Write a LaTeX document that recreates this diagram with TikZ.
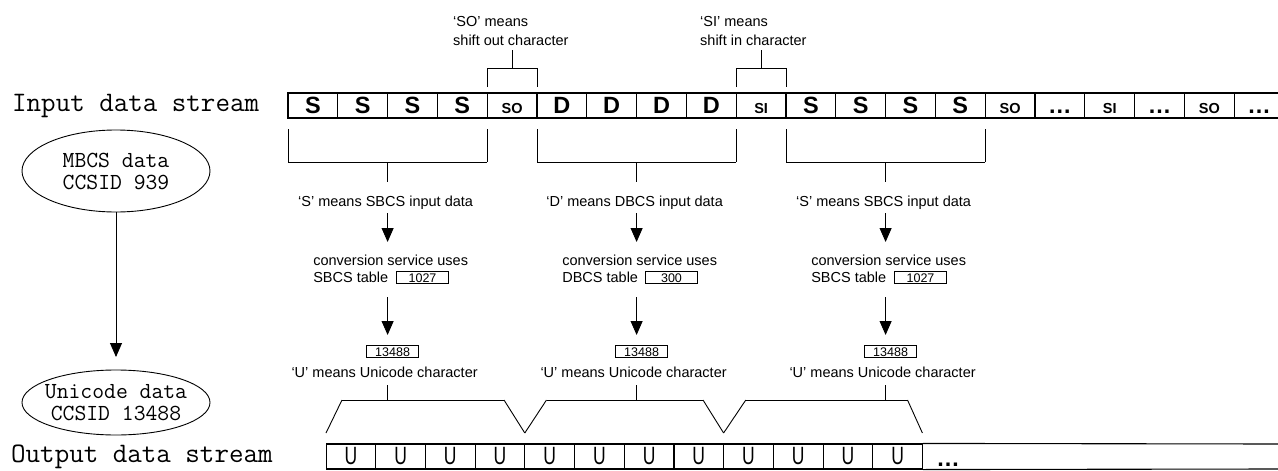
\documentclass[tikz,border=0pt]{standalone}
\usepackage{fontspec}
\usepackage{tikz}
\usetikzlibrary{arrows.meta,shapes.geometric}
\newfontfamily\helv{Liberation Sans}
\newfontfamily\helvnarrow[FakeStretch=0.7]{Liberation Sans}
\newcommand\notefont{\helv\fontsize{14.5}{17}\selectfont}
\newcommand\numfont{\helv\fontsize{12.5}{14}\selectfont}
\newcommand\bigbold{\helv\bfseries\fontsize{23.5}{26}\selectfont}
\newcommand\smallbold{\helv\bfseries\fontsize{14.5}{16}\selectfont}
\newcommand\ufont{\helvnarrow\fontsize{25}{27}\selectfont}
\newcommand\streamfont{\ttfamily\fontsize{28.2}{30}\selectfont}
\newcommand\ovalfont{\ttfamily\fontsize{23}{22}\selectfont}
\tikzstyle{none}=[inner sep=0pt]
\tikzstyle{simple}=[-,draw=black,line width=0.9pt]
\tikzstyle{arrow}=[-{Triangle[length=14pt,width=12pt]},draw=black,line width=0.9pt]
\tikzstyle{stream}=[inner sep=0pt,font=\streamfont]
\tikzstyle{oval}=[draw=black,line width=0.9pt,ellipse,inner xsep=-12pt,inner ysep=0pt,minimum width=188pt,align=center,font=\ovalfont]
\tikzstyle{cell}=[draw=black,line width=1.1pt,minimum width=49.8pt,minimum height=25pt,inner sep=0pt,text height=16.5pt,text depth=0pt]
\tikzstyle{ucell}=[draw=black,line width=1.1pt,minimum width=49.7pt,minimum height=25pt,inner sep=0pt,font=\ufont]
\tikzstyle{note}=[inner sep=0pt,font=\notefont,text height=10.5pt,text depth=0pt]
\tikzstyle{tablebox}=[draw=black,line width=0.8pt,minimum width=52pt,minimum height=12pt,inner sep=0pt,font=\numfont,text height=9pt,text depth=0pt]

\begin{document}
\begin{tikzpicture}[x=1pt,y=-1pt]
  \useasboundingbox (0,0) rectangle (1278,471);
  % left side
  \node [style=stream, anchor=west] (0) at (12, 106) {Input data stream};
  \node [style=stream, anchor=west] (1) at (11, 457) {Output data stream};
  \node [style=oval, minimum height=82pt] (2) at (116, 171) {MBCS data\\CCSID 939};
  \node [style=oval, minimum height=65pt] (3) at (116, 402.5) {Unicode data\\CCSID 13488};
  \node [style=none] (4) at (116, 357) {};
  \draw [style=arrow] (2.south) to (4.center);
  % input data stream
  \node [style=cell, font=\bigbold] (10) at (312.9, 105.5) {S};
  \node [style=cell, font=\bigbold] (11) at (362.7, 105.5) {S};
  \node [style=cell, font=\bigbold] (12) at (412.5, 105.5) {S};
  \node [style=cell, font=\bigbold] (13) at (462.3, 105.5) {S};
  \node [style=cell, font=\smallbold] (14) at (512.1, 105.5) {SO};
  \node [style=cell, font=\bigbold] (15) at (561.9, 105.5) {D};
  \node [style=cell, font=\bigbold] (16) at (611.7, 105.5) {D};
  \node [style=cell, font=\bigbold] (17) at (661.5, 105.5) {D};
  \node [style=cell, font=\bigbold] (18) at (711.3, 105.5) {D};
  \node [style=cell, font=\smallbold] (19) at (761.1, 105.5) {SI};
  \node [style=cell, font=\bigbold] (20) at (810.9, 105.5) {S};
  \node [style=cell, font=\bigbold] (21) at (860.7, 105.5) {S};
  \node [style=cell, font=\bigbold] (22) at (910.5, 105.5) {S};
  \node [style=cell, font=\bigbold] (23) at (960.3, 105.5) {S};
  \node [style=cell, font=\smallbold] (24) at (1010.1, 105.5) {SO};
  \node [style=cell, font=\bigbold] (25) at (1059.9, 105.5) {…};
  \node [style=cell, font=\smallbold] (26) at (1109.7, 105.5) {SI};
  \node [style=cell, font=\bigbold] (27) at (1159.5, 105.5) {…};
  \node [style=cell, font=\smallbold] (28) at (1209.3, 105.5) {SO};
  \node [style=cell, font=\bigbold] (29) at (1259.1, 105.5) {…};
  % output data stream
  \node [style=ucell] (30) at (350.9, 456.5) {U};
  \node [style=ucell] (31) at (400.6, 456.5) {U};
  \node [style=ucell] (32) at (450.3, 456.5) {U};
  \node [style=ucell] (33) at (500.0, 456.5) {U};
  \node [style=ucell] (34) at (549.7, 456.5) {U};
  \node [style=ucell] (35) at (599.4, 456.5) {U};
  \node [style=ucell] (36) at (649.1, 456.5) {U};
  \node [style=ucell] (37) at (698.8, 456.5) {U};
  \node [style=ucell] (38) at (748.5, 456.5) {U};
  \node [style=ucell] (39) at (798.2, 456.5) {U};
  \node [style=ucell] (40) at (847.9, 456.5) {U};
  \node [style=ucell] (41) at (897.6, 456.5) {U};
  \node [style=none, font=\bigbold, anchor=base] (42) at (948, 466) {…};
  \node [style=none] (43) at (1278, 444) {};
  \node [style=none] (44) at (1278, 469) {};
  \draw [style=simple, line width=1.1pt] (41.north east) to (43.center);
  \draw [style=simple, line width=1.1pt] (41.south east) to (44.center);
  % shift out / shift in
  \node [style=note, anchor=west] (45) at (453, 21) {‘SO’ means};
  \node [style=note, anchor=west] (46) at (453, 40) {shift out character};
  \node [style=none] (47) at (487.2, 87) {};
  \node [style=none] (48) at (487.2, 68) {};
  \node [style=none] (49) at (537, 68) {};
  \node [style=none] (50) at (537, 87) {};
  \node [style=none] (51) at (512.1, 68) {};
  \node [style=none] (52) at (512.1, 50) {};
  \node [style=note, anchor=west] (53) at (700, 21) {‘SI’ means};
  \node [style=note, anchor=west] (54) at (700, 40) {shift in character};
  \node [style=none] (55) at (736.2, 87) {};
  \node [style=none] (56) at (736.2, 68) {};
  \node [style=none] (57) at (786, 68) {};
  \node [style=none] (58) at (786, 87) {};
  \node [style=none] (59) at (761.1, 68) {};
  \node [style=none] (60) at (761.1, 50) {};
  \draw [style=simple] (47.center) to (48.center);
  \draw [style=simple] (48.center) to (49.center);
  \draw [style=simple] (49.center) to (50.center);
  \draw [style=simple] (51.center) to (52.center);
  \draw [style=simple] (55.center) to (56.center);
  \draw [style=simple] (56.center) to (57.center);
  \draw [style=simple] (57.center) to (58.center);
  \draw [style=simple] (59.center) to (60.center);
  % first SBCS column
  \node [style=none] (61) at (288, 129) {};
  \node [style=none] (62) at (288, 162) {};
  \node [style=none] (63) at (487.2, 162) {};
  \node [style=none] (64) at (487.2, 129) {};
  \node [style=none] (65) at (387.6, 162) {};
  \node [style=none] (66) at (387.6, 182) {};
  \node [style=note] (67) at (385.6, 201) {‘S’ means SBCS input data};
  \node [style=none] (68) at (387.6, 213) {};
  \node [style=none] (69) at (387.6, 242) {};
  \node [style=note, anchor=west] (70) at (313.1, 260) {conversion service uses};
  \node [style=note, anchor=west] (71) at (313.1, 277.5) {SBCS table};
  \node [style=tablebox, anchor=west] (72) at (396.1, 277.5) {1027};
  \node [style=none] (73) at (387.6, 297) {};
  \node [style=none] (74) at (387.6, 335) {};
  \node [style=tablebox] (75) at (392.6, 351.5) {13488};
  \node [style=note] (76) at (384.6, 372) {‘U’ means Unicode character};
  \node [style=none] (77) at (387.6, 385) {};
  \node [style=none] (78) at (387.6, 400) {};
  \node [style=none] (79) at (326, 433) {};
  \node [style=none] (80) at (342, 400) {};
  \node [style=none] (81) at (504, 400) {};
  \node [style=none] (82) at (524.8, 433) {};
  \draw [style=simple] (61.center) to (62.center);
  \draw [style=simple] (62.center) to (63.center);
  \draw [style=simple] (63.center) to (64.center);
  \draw [style=simple] (65.center) to (66.center);
  \draw [style=arrow] (68.center) to (69.center);
  \draw [style=arrow] (73.center) to (74.center);
  \draw [style=simple] (77.center) to (78.center);
  \draw [style=simple] (79.center) to (80.center);
  \draw [style=simple] (80.center) to (81.center);
  \draw [style=simple] (81.center) to (82.center);
  % DBCS column
  \node [style=none] (83) at (537, 129) {};
  \node [style=none] (84) at (537, 162) {};
  \node [style=none] (85) at (736.2, 162) {};
  \node [style=none] (86) at (736.2, 129) {};
  \node [style=none] (87) at (636.6, 162) {};
  \node [style=none] (88) at (636.6, 182) {};
  \node [style=note] (89) at (634.6, 201) {‘D’ means DBCS input data};
  \node [style=none] (90) at (636.6, 213) {};
  \node [style=none] (91) at (636.6, 242) {};
  \node [style=note, anchor=west] (92) at (562.1, 260) {conversion service uses};
  \node [style=note, anchor=west] (93) at (562.1, 277.5) {DBCS table};
  \node [style=tablebox, anchor=west] (94) at (645.1, 277.5) {300};
  \node [style=none] (95) at (636.6, 297) {};
  \node [style=none] (96) at (636.6, 335) {};
  \node [style=tablebox] (97) at (641.6, 351.5) {13488};
  \node [style=note] (98) at (633.6, 372) {‘U’ means Unicode character};
  \node [style=none] (99) at (636.6, 385) {};
  \node [style=none] (100) at (636.6, 400) {};
  \node [style=none] (101) at (546.5, 400) {};
  \node [style=none] (102) at (703, 400) {};
  \node [style=none] (103) at (723.6, 433) {};
  \draw [style=simple] (83.center) to (84.center);
  \draw [style=simple] (84.center) to (85.center);
  \draw [style=simple] (85.center) to (86.center);
  \draw [style=simple] (87.center) to (88.center);
  \draw [style=arrow] (90.center) to (91.center);
  \draw [style=arrow] (95.center) to (96.center);
  \draw [style=simple] (99.center) to (100.center);
  \draw [style=simple] (82.center) to (101.center);
  \draw [style=simple] (101.center) to (102.center);
  \draw [style=simple] (102.center) to (103.center);
  % second SBCS column
  \node [style=none] (104) at (786, 129) {};
  \node [style=none] (105) at (786, 162) {};
  \node [style=none] (106) at (985.2, 162) {};
  \node [style=none] (107) at (985.2, 129) {};
  \node [style=none] (108) at (885.6, 162) {};
  \node [style=none] (109) at (885.6, 182) {};
  \node [style=note] (110) at (883.6, 201) {‘S’ means SBCS input data};
  \node [style=none] (111) at (885.6, 213) {};
  \node [style=none] (112) at (885.6, 242) {};
  \node [style=note, anchor=west] (113) at (811.1, 260) {conversion service uses};
  \node [style=note, anchor=west] (114) at (811.1, 277.5) {SBCS table};
  \node [style=tablebox, anchor=west] (115) at (894.1, 277.5) {1027};
  \node [style=none] (116) at (885.6, 297) {};
  \node [style=none] (117) at (885.6, 335) {};
  \node [style=tablebox] (118) at (890.6, 351.5) {13488};
  \node [style=note] (119) at (882.6, 372) {‘U’ means Unicode character};
  \node [style=none] (120) at (885.6, 385) {};
  \node [style=none] (121) at (885.6, 400) {};
  \node [style=none] (122) at (745.8, 400) {};
  \node [style=none] (123) at (907.5, 400) {};
  \node [style=none] (124) at (922.4, 433) {};
  \draw [style=simple] (104.center) to (105.center);
  \draw [style=simple] (105.center) to (106.center);
  \draw [style=simple] (106.center) to (107.center);
  \draw [style=simple] (108.center) to (109.center);
  \draw [style=arrow] (111.center) to (112.center);
  \draw [style=arrow] (116.center) to (117.center);
  \draw [style=simple] (120.center) to (121.center);
  \draw [style=simple] (103.center) to (122.center);
  \draw [style=simple] (122.center) to (123.center);
  \draw [style=simple] (123.center) to (124.center);
\end{tikzpicture}
\end{document}
